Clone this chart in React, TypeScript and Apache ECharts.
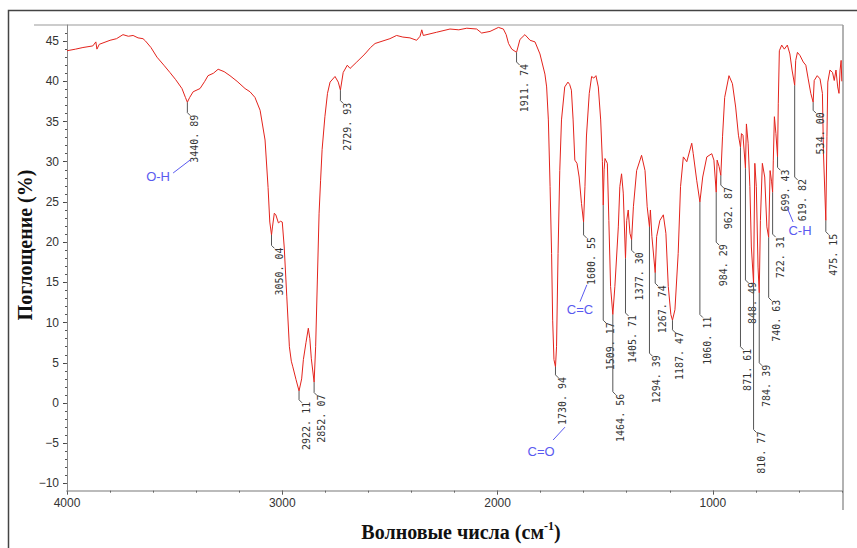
import React, { useEffect, useRef } from "react";
import * as echarts from "echarts";

// ---- Spectrum (wavenumber, cm^-1  ->  value, %) ----
const wavenumbers = [
  4000, 3960, 3926, 3880, 3866, 3861, 3850, 3800, 3770, 3740, 3715, 3693, 3670, 3647, 3635, 3610, 3582, 3550, 3522, 3495,
  3466, 3450, 3440.89, 3430, 3414, 3382, 3360, 3345, 3320, 3298, 3270, 3243, 3210, 3173, 3150, 3127, 3103, 3080, 3066, 3058,
  3050.04, 3045, 3037, 3030, 3018, 3008, 3000, 2991, 2979, 2967, 2958, 2951, 2936, 2922.11, 2910, 2902, 2890, 2879, 2872, 2865,
  2852.07, 2845, 2837, 2829, 2822, 2815, 2802, 2790, 2778, 2755, 2740, 2729.93, 2717, 2698, 2685, 2654, 2616, 2590, 2569, 2500,
  2469, 2440, 2407, 2376, 2360, 2352, 2345, 2283, 2221, 2180, 2143, 2097, 2074, 2035, 1996, 1973, 1960, 1949, 1934, 1911.74,
  1896, 1873, 1849, 1826, 1803, 1780, 1772, 1764, 1756, 1749, 1744, 1738, 1730.94, 1726, 1719, 1711, 1703, 1688, 1673, 1665,
  1657, 1649, 1641, 1631, 1621, 1610, 1600.55, 1594, 1587, 1574, 1563, 1553, 1543, 1532, 1521, 1513, 1509.17, 1505, 1501, 1490,
  1483, 1475, 1464.56, 1455, 1439, 1432, 1424, 1416, 1405.71, 1400, 1393, 1385, 1377.3, 1369, 1354, 1331, 1315, 1305, 1294.39, 1290,
  1283, 1267.74, 1261, 1246, 1230, 1218, 1207, 1195, 1187.47, 1176, 1161, 1150, 1137, 1121, 1098, 1091, 1075, 1060.11, 1047, 1028,
  1005, 995, 984.29, 980, 971, 962.87, 955, 945, 925, 909, 894, 881, 871.61, 867, 860, 848.49, 844, 836, 828, 821,
  810.77, 805, 798, 790, 784.39, 779, 770, 759, 749, 740.63, 734, 727, 722.31, 719, 714, 707, 699.43, 696, 691, 680,
  668, 654, 642, 632, 619.82, 615, 607, 595, 580, 568, 557, 545, 534, 529, 515, 502, 491, 486, 475.15, 470,
  466, 456, 444, 436, 428, 420, 414, 409, 404, 401,
];
const transmittance = [
  43.8, 44.0, 44.2, 44.4, 44.9, 44.0, 44.6, 45.1, 45.3, 45.8, 45.6, 45.7, 45.4, 45.3, 45.0, 44.2, 43.0, 42.0, 41.1, 40.2,
  39.1, 38.0, 37.4, 38.0, 38.7, 39.1, 40.0, 40.7, 41.0, 41.5, 41.2, 40.7, 40.0, 39.1, 38.7, 38.0, 36.4, 32.7, 26.8, 22.5,
  20.9, 22.0, 23.6, 23.4, 22.4, 22.6, 22.5, 19.4, 13.2, 7.0, 5.2, 4.5, 2.9, 1.5, 3.0, 5.4, 7.5, 9.3, 8.0, 5.5,
  2.6, 7.0, 15.3, 23.6, 27.7, 31.5, 35.6, 38.5, 39.9, 40.6, 39.9, 38.9, 41.1, 42.0, 41.6, 42.4, 43.4, 44.2, 44.7, 45.3,
  45.7, 45.5, 45.4, 45.1, 45.6, 46.4, 45.7, 46.1, 46.5, 46.4, 46.6, 46.5, 46.0, 46.2, 46.7, 46.5, 45.8, 44.7, 44.0, 43.6,
  45.2, 45.8, 45.1, 44.9, 43.4, 40.9, 39.3, 35.2, 26.9, 18.6, 10.3, 5.4, 4.5, 7.0, 18.6, 28.9, 35.2, 39.3, 39.9, 39.6,
  38.9, 35.2, 30.2, 29.8, 28.1, 24.8, 22.5, 26.9, 33.2, 38.5, 40.6, 40.4, 40.7, 39.3, 35.2, 30.0, 24.6, 29.0, 30.4, 29.8,
  22.7, 14.5, 11.0, 14.5, 21.9, 26.9, 28.5, 26.1, 18.0, 22.7, 24.0, 21.1, 20.3, 24.4, 28.9, 30.8, 28.9, 24.4, 21.9, 24.0,
  20.7, 16.2, 20.7, 22.7, 23.4, 21.1, 14.5, 11.0, 10.3, 11.6, 18.6, 26.9, 30.6, 30.0, 32.3, 31.0, 27.7, 25.0, 28.1, 30.6,
  31.0, 30.2, 26.2, 30.2, 29.4, 28.3, 33.1, 38.0, 40.7, 39.7, 36.8, 33.3, 31.8, 33.5, 33.3, 29.2, 34.7, 32.3, 26.9, 19.4,
  14.9, 29.8, 26.9, 16.9, 13.7, 22.7, 29.8, 28.1, 21.9, 20.6, 28.9, 27.5, 26.2, 30.2, 35.6, 33.5, 30.6, 37.2, 43.8, 44.5,
  44.0, 44.5, 43.4, 41.4, 39.5, 42.6, 43.6, 43.2, 42.4, 42.0, 40.3, 38.5, 37.4, 40.1, 40.7, 40.3, 38.5, 31.0, 22.7, 33.1,
  39.9, 41.4, 41.1, 40.1, 41.4, 39.3, 38.5, 41.4, 42.6, 40.0,
];

// ---- Peak labels ----
const peakWavenumbers = [
  3440.89, 3050.04, 2922.11, 2852.07, 2729.93, 1911.74, 1730.94, 1600.55, 1509.17, 1464.56, 1405.71, 1377.3, 1294.39, 1267.74,
  1187.47, 1060.11, 984.29, 962.87, 871.61, 848.49, 810.77, 784.39, 740.63, 722.31, 699.43, 619.82, 534.0, 475.15,
];
const peakLabels = [
  "3440. 89", "3050. 04", "2922. 11", "2852. 07", "2729. 93", "1911. 74", "1730. 94", "1600. 55", "1509. 17", "1464. 56",
  "1405. 71", "1377. 30", "1294. 39", "1267. 74", "1187. 47", "1060. 11", "984. 29", "962. 87", "871. 61", "848. 49",
  "810. 77", "784. 39", "740. 63", "722. 31", "699. 43", "619. 82", "534. 00", "475. 15",
];
// value (%) where each leader line ends
const peakLeaderEnds = [
  36.1, 19.6, 0.4, 1.3, 37.6, 42.4, 3.5, 20.9, 10.3, 1.4, 11.2, 19.0, 6.2, 14.9,
  9.1, 11.0, 20.0, 27.1, 7.0, 15.3, -3.3, 5.0, 13.1, 21.0, 29.3, 28.1, 36.4, 21.3,
];

// ---- Group annotations ----
const groupNames = ["O-H", "C=C", "C=O", "C-H"];
const groupTextAt = [[3577, 28.2], [1617, 11.6], [1798, -6.0], [595, 21.5]];
const groupLeaders = [
  [[3507, 28.6], [3424, 30.3]],
  [[1617, 12.6], [1585, 14.7]],
  [[1742, -4.6], [1687, -3.0]],
  [[655, 24.3], [627, 22.5]],
];

// ---- Axes ----
const xTickValues = [1000, 2000, 3000, 4000];
const xMinorTickValues = [400, 600, 800, 1000, 1200, 1400, 1600, 1800, 2000, 2200, 2400, 2600, 2800, 3000, 3200, 3400, 3600, 3800, 4000];
const yTickValues = [-10, -5, 0, 5, 10, 15, 20, 25, 30, 35, 40, 45];
const yMinorTickValues = Array.from({ length: 57 }, (_, i) => i - 10);
const xTitle = "Волновые числа (см";
const xTitleSup = "-1";
const yTitle = "Поглощение (%)";

const X_MIN = 400, X_MAX = 4000, Y_MIN = -10.9, Y_MAX = 47;

export default function App() {
  const ref = useRef<HTMLDivElement>(null);
  useEffect(() => {
    if (!ref.current) return;
    const chart = echarts.init(ref.current, undefined, { renderer: "svg" });
    const spectrum = wavenumbers.map((w, i) => [w, transmittance[i]]);
    const valueAt = new Map<number, number>();
    wavenumbers.forEach((w, i) => valueAt.set(w, transmittance[i]));
    const peaks = peakWavenumbers.map((w, i) => [w, valueAt.get(w) ?? 0, peakLeaderEnds[i]]);

    const axisFont = { fontFamily: "Liberation Sans", fontSize: 12, color: "#333" };
    const fmtY = (v: number) => (v < 0 ? "\u2212" + Math.abs(v) : String(v));
    const fmtX = (v: number) => String(v);

    chart.setOption({
      animation: false,
      grid: { left: 67, top: 25, width: 775, height: 465.7, containLabel: false },
      xAxis: [
        {
          type: "value", min: X_MIN, max: X_MAX, inverse: true, position: "bottom",
          axisLine: { show: true, onZero: false, lineStyle: { color: "#bbb", width: 2 } },
          axisTick: { show: true, customValues: xTickValues, length: 4, lineStyle: { color: "#555" } },
          axisLabel: { show: true, customValues: xTickValues, margin: 6, formatter: fmtX, ...axisFont },
          splitLine: { show: false },
        },
        {
          type: "value", min: X_MIN, max: X_MAX, inverse: true, position: "bottom",
          axisLine: { show: false, onZero: false },
          axisTick: { show: true, customValues: xMinorTickValues, length: 2, lineStyle: { color: "#666" } },
          axisLabel: { show: false },
          splitLine: { show: false },
        },
      ],
      yAxis: [
        {
          type: "value", min: Y_MIN, max: Y_MAX, position: "left",
          axisLine: { show: true, onZero: false, lineStyle: { color: "#888", width: 1 } },
          axisTick: { show: true, customValues: yTickValues, length: 4, lineStyle: { color: "#444" } },
          axisLabel: { show: true, customValues: yTickValues, margin: 8, formatter: fmtY, ...axisFont },
          splitLine: { show: false },
        },
        {
          type: "value", min: Y_MIN, max: Y_MAX, position: "left",
          axisLine: { show: false, onZero: false },
          axisTick: { show: true, customValues: yMinorTickValues, length: 2, lineStyle: { color: "#555" } },
          axisLabel: { show: false },
          splitLine: { show: false },
        },
      ],
      series: [
        {
          type: "line", data: spectrum, xAxisIndex: 0, yAxisIndex: 0,
          showSymbol: false, symbol: "none", clip: true,
          lineStyle: { color: "#e3231c", width: 1 }, z: 2,
        },
        {
          type: "custom", data: peaks, xAxisIndex: 0, yAxisIndex: 0, z: 3,
          encode: { x: 0, y: [1, 2] },
          renderItem: (params: any, api: any) => {
            const i = params.dataIndex;
            const top = api.coord([api.value(0), api.value(1)]);
            const end = api.coord([api.value(0), api.value(2)]);
            return {
              type: "group",
              children: [
                {
                  type: "polyline",
                  shape: { points: [top, end, [end[0] + 3, end[1] + 3]] },
                  style: { stroke: "#555", lineWidth: 1, fill: null },
                },
                {
                  type: "text", x: end[0] + 7.5, y: end[1] + 2, rotation: Math.PI / 2,
                  style: {
                    text: peakLabels[i], fill: "#333", fontSize: 10, fontFamily: "DejaVu Sans Mono",
                    align: "right", verticalAlign: "middle",
                  },
                },
              ],
            };
          },
        },
        {
          type: "custom", data: groupTextAt, xAxisIndex: 0, yAxisIndex: 0, z: 3,
          renderItem: (params: any, api: any) => {
            const i = params.dataIndex;
            const c = api.coord(groupTextAt[i]);
            const a = api.coord(groupLeaders[i][0]);
            const b = api.coord(groupLeaders[i][1]);
            return {
              type: "group",
              children: [
                { type: "line", shape: { x1: a[0], y1: a[1], x2: b[0], y2: b[1] }, style: { stroke: "#5a5af0", lineWidth: 1 } },
                {
                  type: "text", x: c[0], y: c[1],
                  style: { text: groupNames[i], fill: "#5a5af0", fontSize: 13, fontFamily: "Liberation Sans", align: "center", verticalAlign: "middle" },
                },
              ],
            };
          },
        },
      ],
      graphic: [
        { type: "polyline", shape: { points: [[8.5, 548], [8.5, 10.5], [857, 10.5]] }, style: { stroke: "#444", lineWidth: 1.5, fill: null }, silent: true },
        { type: "line", shape: { x1: 34, y1: 25, x2: 843, y2: 25 }, style: { stroke: "#ccc", lineWidth: 2 }, silent: true },
        { type: "line", shape: { x1: 843, y1: 25, x2: 843, y2: 510 }, style: { stroke: "#999", lineWidth: 1.5 }, silent: true },
        {
          type: "text", x: 25, y: 245, rotation: Math.PI / 2,
          style: { text: yTitle, fill: "#111", font: 'bold 20px "Liberation Serif"', align: "center", verticalAlign: "middle" },
        },
        {
          type: "text", x: 461, y: 532,
          style: {
            text: "{m|" + xTitle + "}{s|" + xTitleSup + "}{m|)}",
            align: "center", verticalAlign: "middle",
            rich: {
              m: { fontFamily: "Liberation Serif", fontWeight: "bold", fontSize: 20, fill: "#111" },
              s: { fontFamily: "Liberation Serif", fontWeight: "bold", fontSize: 12, fill: "#111", verticalAlign: "top", padding: [0, 0, 12, 0] },
            },
          },
        },
      ],
    });
    return () => chart.dispose();
  }, []);
  return <div ref={ref} style={{ position: "fixed", left: 0, top: 0, width: 857, height: 548, background: "#fff" }} />;
}
